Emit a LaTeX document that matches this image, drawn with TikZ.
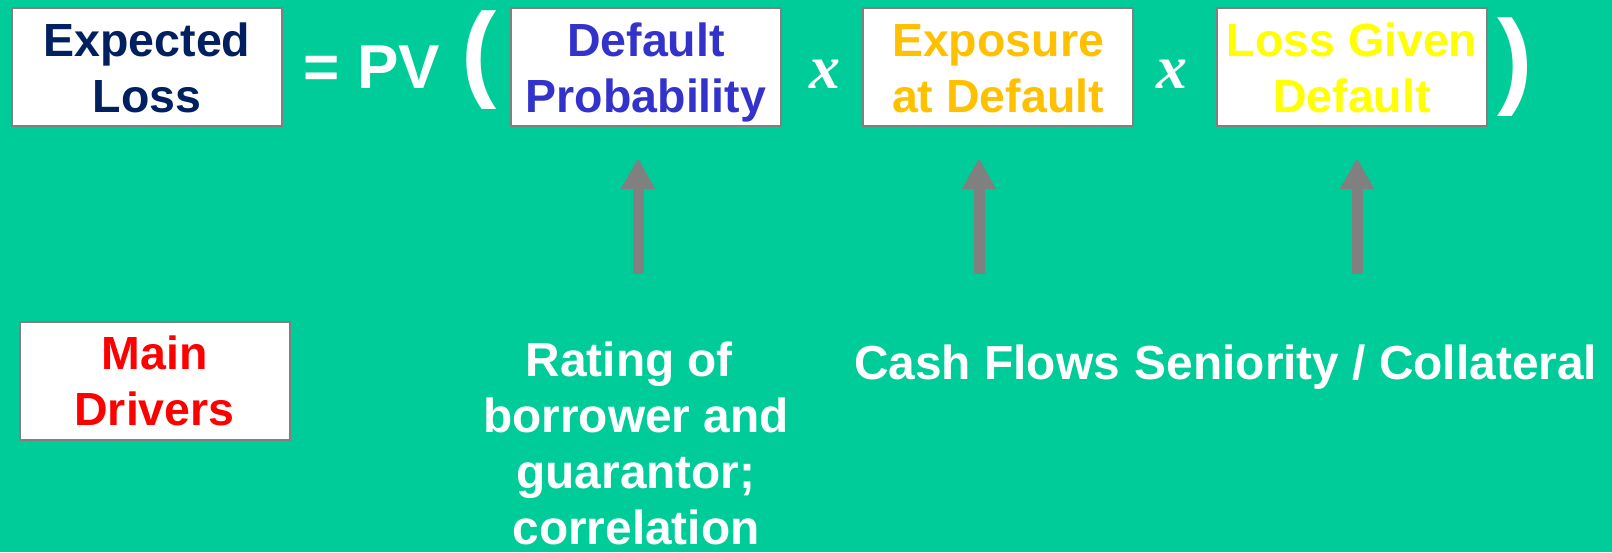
\documentclass[tikz,border=0pt]{standalone}
\usepackage{fontspec}
\setmainfont{Liberation Sans}
\newfontfamily\timesx{Liberation Serif}
\usetikzlibrary{arrows.meta}
\definecolor{bg}{RGB}{0,204,153}
\definecolor{boxline}{RGB}{128,128,128}
\definecolor{navyt}{RGB}{0,32,96}
\definecolor{dpblue}{RGB}{51,51,204}
\definecolor{expo}{RGB}{255,192,0}
\definecolor{lgdy}{RGB}{255,255,0}
\definecolor{drv}{RGB}{255,0,0}
\definecolor{arrowgray}{RGB}{128,128,128}
\newcommand{\twolines}[2]{\rule{0pt}{44pt}#1\\#2\rule[-10pt]{0pt}{10pt}}
\begin{document}
\begin{tikzpicture}[x=1pt,y=-1pt,
  termbox/.style={draw=boxline, line width=2pt, fill=white, minimum width=270pt,
    minimum height=118pt, inner sep=0pt, align=center,
    font=\fontsize{46.5}{56}\selectfont\bfseries},
  whitetext/.style={text=white, inner sep=0pt, font=\fontsize{47.8}{56}\selectfont\bfseries},
  optext/.style={text=white, inner sep=0pt, anchor=base},
  driverarrow/.style={draw=arrowgray, line width=11pt,
    -{Triangle[width=32pt,length=31pt,fill=arrowgray]}}
]
\fill[bg] (0,0) rectangle (1612,552);
\useasboundingbox (0,0) rectangle (1612,552);

% top formula
\node[termbox, text=navyt] (el) at (147,67) {\twolines{Expected}{Loss}};
\node[optext, font=\fontsize{62}{70}\selectfont\bfseries] (eqpv) at (372,88) {= PV};
\node[optext, font=\fontsize{106}{110}\selectfont\bfseries] (lpar) at (479,87) {(};
\node[termbox, text=dpblue] (dp) at (646,67) {\twolines{Default}{Probability}};
\node[optext, font=\timesx\fontsize{62}{70}\selectfont\bfseries\itshape] (x1) at (825,88) {x};
\node[termbox, text=expo] (ead) at (998,67) {\twolines{Exposure}{at Default}};
\node[optext, font=\timesx\fontsize{62}{70}\selectfont\bfseries\itshape] (x2) at (1172,88) {x};
\node[termbox, text=lgdy] (lgd) at (1352,67) {\twolines{Loss Given}{Default}};
\node[optext, font=\fontsize{106}{110}\selectfont\bfseries] (rpar) at (1515,94) {)};

% main drivers
\node[termbox, text=drv] (md) at (154.5,380.5) {\twolines{Main}{Drivers}};
\node[whitetext, align=center, anchor=north] (rating) at (636,332)
  {\rule{0pt}{44pt}Rating of\hspace*{0.278em}\\borrower and\\guarantor;\\correlation};
\node[whitetext, anchor=base] (cash) at (987,379) {Cash Flows};
\node[whitetext, anchor=base] (sen) at (1366,379) {Seniority / Collateral};

% arrows
\coordinate (a1b) at (638,274);
\coordinate (a1t) at (638,158);
\coordinate (a2b) at (979,274);
\coordinate (a2t) at (979,158);
\coordinate (a3b) at (1357,274);
\coordinate (a3t) at (1357,158);
\draw[driverarrow] (a1b) -- (a1t);
\draw[driverarrow] (a2b) -- (a2t);
\draw[driverarrow] (a3b) -- (a3t);
\end{tikzpicture}
\end{document}
